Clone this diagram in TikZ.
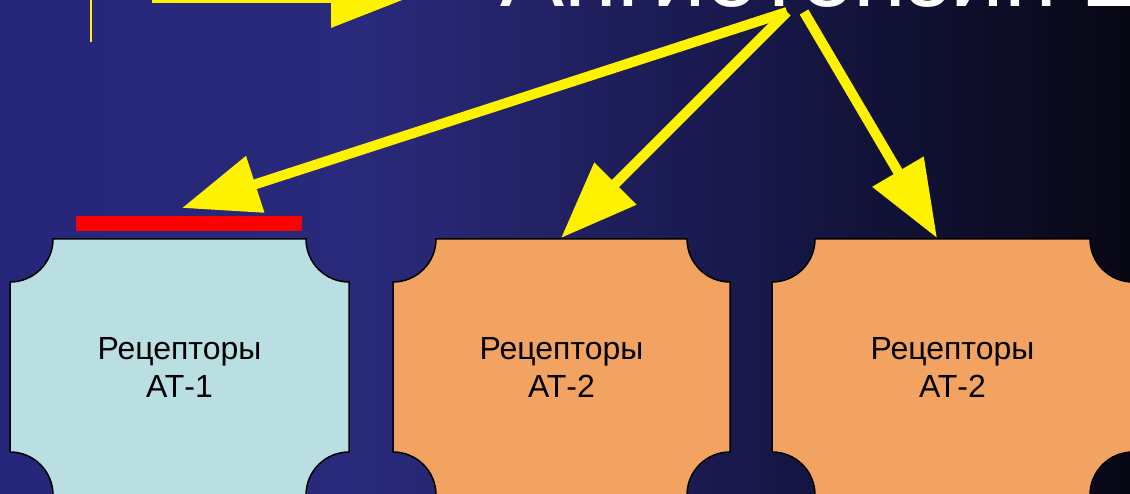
\documentclass[tikz,border=0pt]{standalone}
\usepackage{fontspec}
\setmainfont{Liberation Sans}
\usetikzlibrary{arrows.meta,positioning}

\definecolor{bgA}{HTML}{25257A}
\definecolor{bgB}{HTML}{2A2A7C}
\definecolor{bgC}{HTML}{171748}
\definecolor{bgD}{HTML}{070714}
\definecolor{atone}{HTML}{B9DFE2}
\definecolor{attwo}{HTML}{F3A361}
% the path takes the span 25bp--75bp of the shading
\pgfdeclarehorizontalshading{slidebg}{100bp}{color(0bp)=(bgA); color(25bp)=(bgA); color(41bp)=(bgB); color(59bp)=(bgC); color(75bp)=(bgD); color(100bp)=(bgD)}

% box with concave corners: x0 y0 x1 y1 fill
\newcommand{\recpanel}[5]{%
  \draw[panel, fill=#5] (#1+43,#2) -- (#3-43,#2)
    arc[start angle=180, end angle=90, radius=43] -- (#3,#4-43)
    arc[start angle=270, end angle=180, radius=43] -- (#1+43,#4)
    arc[start angle=0, end angle=-90, radius=43] -- (#1,#2+43)
    arc[start angle=90, end angle=0, radius=43] -- cycle;}

\begin{document}
\begin{tikzpicture}[x=1pt, y=-1pt]
	\tikzstyle{panel}=[draw=black, line width=1.5pt]
	\tikzstyle{label}=[align=center, inner sep=0pt, font=\fontsize{32}{38}\selectfont]
	\tikzstyle{connect}=[draw=yellow, line width=10pt, -{Triangle[length=77pt, width=57pt]}]
	
	\useasboundingbox (0,0) rectangle (1130,494);
	\shade[shading=slidebg] (0,0) rectangle (1130,494);
	
	\node[anchor=base west, inner sep=0pt, text=white, font=\fontsize{96}{110}\selectfont] (title) at (500,7) {Ангиотензин 2};
	
	\recpanel{10}{239}{349}{495}{atone}
	\recpanel{393}{239}{730}{495}{attwo}
	\recpanel{772}{239}{1133}{495}{attwo}
	
	\node[label] (rec1) at (179.5,367) {Рецепторы\\АТ-1};
	\node[label] (rec2) at (561.5,367) {Рецепторы\\АТ-2};
	\node[label] (rec3) at (952.5,367) {Рецепторы\\АТ-2};
	
	\node[fill=red, inner sep=0pt, minimum width=226pt, minimum height=15pt] (block) at (189,223.5) {};
	
	\coordinate (src) at (787,12);
	\coordinate (src3) at (804,12);
	\coordinate (tip1) at (182,208);
	\coordinate (tip2) at (561,238);
	\coordinate (tip3) at (937,238);
	\coordinate (in0) at (152,-2);
	\coordinate (in1) at (408,-2);
	\coordinate (mark0) at (91,-5);
	\coordinate (mark1) at (91,42);
	
	\draw[yellow, line width=2pt] (mark0) -- (mark1);
	
	\path (in0) edge [connect] (in1)
	(src) edge [connect] (tip1)
	(src) edge [connect] (tip2)
	(src3) edge [connect] (tip3);
	
\end{tikzpicture}
\end{document}
